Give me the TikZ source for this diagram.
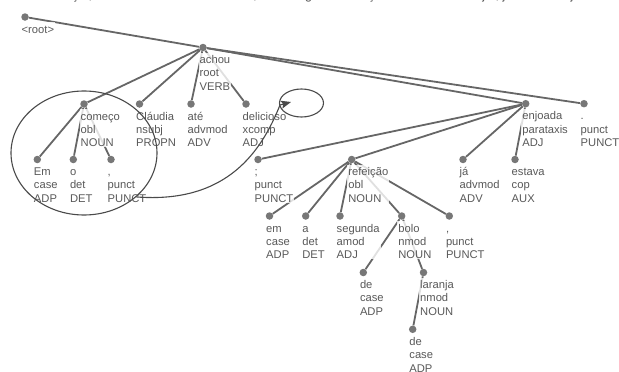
\documentclass[tikz,border=0pt]{standalone}
\usepackage{fontspec}
\setmainfont{Liberation Sans}
\usetikzlibrary{positioning}
\usetikzlibrary{arrows.meta}
\usetikzlibrary{shapes.geometric}
\definecolor{treegray}{HTML}{666666}
\definecolor{dotgray}{HTML}{777777}
\definecolor{txtgray}{HTML}{595959}
\definecolor{inkgray}{HTML}{4A4A4A}
\tikzset{dot/.style = {fill=dotgray, circle, inner sep = 0, minimum size = 7.5}}
\tikzset{edge/.style = {draw=treegray, line width = 1.8}}
\tikzset{lbl/.style = {fill=white, fill opacity=0.8, text opacity=1, text=txtgray,
    inner xsep=1, inner ysep=0.5, align=left, font=\fontsize{11.2}{13.3}\selectfont}}
\tikzset{scribble/.style = {draw=inkgray, line width = 1.1}}
\newcommand{\lstrut}{\rule{0pt}{10.5pt}}

\begin{document}
\begin{tikzpicture}[x=1pt, y=-1pt]
    \useasboundingbox (0, 0) rectangle (619, 372);
    \clip (0, 0) rectangle (619, 372);
    \node [anchor=base west, inner sep=0, text=txtgray, font=\fontsize{12.6}{15}\selectfont]
      (sentence) at (8, -1) {Em o começo , Cláudia até achou delicioso ; em a segunda refeição de bolo de laranja , já estava enjoada .};
    % tokens
    \foreach \n/\x/\y in {root/25/17, achou/203/47.5,
      comeco/84/104, claudia/139.5/104, ate/191/104, delicioso/246/104,
      em1/37.3/159.5, o/73.3/159.5, p1/111/159.5,
      enjoada/525.7/103.7, p3/584/103.7,
      semi/258/159.5, refeicao/351.7/159.5, ja/463/159.5, estava/515/159.5,
      em2/269.5/216, a/305.7/216, segunda/340/216, bolo/401.7/216, p2/449.3/216,
      de1/363.3/272.5, laranja/423.5/272.5, de2/412.7/329.3}{
      \node [dot] (\n) at (\x, \y) {};
    }
    % dependencies
    \foreach \h/\d in {root/achou, achou/comeco, achou/claudia, achou/ate,
      achou/delicioso, achou/enjoada, achou/p3,
      comeco/em1, comeco/o, comeco/p1,
      enjoada/semi, enjoada/refeicao, enjoada/ja, enjoada/estava,
      refeicao/em2, refeicao/a, refeicao/segunda, refeicao/bolo, refeicao/p2,
      bolo/de1, bolo/laranja, laranja/de2}{
      \draw [edge] (\h) -- (\d);
    }
    % labels
    \node [lbl, below right=4.9pt and -4.5pt of root.center] (root-l) {\lstrut<root>};
    \node [lbl, below right=4.9pt and -4.5pt of achou.center] (achou-l) {\lstrut achou\\root\\VERB};
    \node [lbl, below right=4.9pt and -4.5pt of comeco.center] (comeco-l) {\lstrut começo\\obl\\NOUN};
    \node [lbl, below right=4.9pt and -4.5pt of claudia.center] (claudia-l) {\lstrut Cláudia\\nsubj\\PROPN};
    \node [lbl, below right=4.9pt and -4.5pt of ate.center] (ate-l) {\lstrut até\\advmod\\ADV};
    \node [lbl, below right=4.9pt and -4.5pt of delicioso.center] (delicioso-l) {\lstrut delicioso\\xcomp\\ADJ};
    \node [lbl, below right=4.9pt and -4.5pt of em1.center] (em1-l) {\lstrut Em\\case\\ADP};
    \node [lbl, below right=4.9pt and -4.5pt of o.center] (o-l) {\lstrut o\\det\\DET};
    \node [lbl, below right=4.9pt and -4.5pt of p1.center] (p1-l) {\lstrut ,\\punct\\PUNCT};
    \node [lbl, below right=4.9pt and -4.5pt of enjoada.center] (enjoada-l) {\lstrut enjoada\\parataxis\\ADJ};
    \node [lbl, below right=4.9pt and -4.5pt of p3.center] (p3-l) {\lstrut .\\punct\\PUNCT};
    \node [lbl, below right=4.9pt and -4.5pt of semi.center] (semi-l) {\lstrut ;\\punct\\PUNCT};
    \node [lbl, below right=4.9pt and -4.5pt of refeicao.center] (refeicao-l) {\lstrut refeição\\obl\\NOUN};
    \node [lbl, below right=4.9pt and -4.5pt of ja.center] (ja-l) {\lstrut já\\advmod\\ADV};
    \node [lbl, below right=4.9pt and -4.5pt of estava.center] (estava-l) {\lstrut estava\\cop\\AUX};
    \node [lbl, below right=4.9pt and -4.5pt of em2.center] (em2-l) {\lstrut em\\case\\ADP};
    \node [lbl, below right=4.9pt and -4.5pt of a.center] (a-l) {\lstrut a\\det\\DET};
    \node [lbl, below right=4.9pt and -4.5pt of segunda.center] (segunda-l) {\lstrut segunda\\amod\\ADJ};
    \node [lbl, below right=4.9pt and -4.5pt of bolo.center] (bolo-l) {\lstrut bolo\\nmod\\NOUN};
    \node [lbl, below right=4.9pt and -4.5pt of p2.center] (p2-l) {\lstrut ,\\punct\\PUNCT};
    \node [lbl, below right=4.9pt and -4.5pt of de1.center] (de1-l) {\lstrut de\\case\\ADP};
    \node [lbl, below right=4.9pt and -4.5pt of laranja.center] (laranja-l) {\lstrut laranja\\nmod\\NOUN};
    \node [lbl, below right=4.9pt and -4.5pt of de2.center] (de2-l) {\lstrut de\\case\\ADP};
    % hand-drawn marks
    \node [scribble, ellipse, inner sep=0, minimum width=146, minimum height=124] (group) at (84, 153) {};
    \node [scribble, ellipse, inner sep=0, minimum width=44, minimum height=28] (target) at (301.5, 103) {};
    \coordinate (bend) at (280, 105);
    \coordinate (tip) at (291, 102);
    \draw [scribble, -{Stealth[length=10pt, width=8pt, inset=2pt]}]
      (group.-40) .. controls (228, 204) and (262, 150) .. (bend) -- (tip);
  \end{tikzpicture}
\end{document}
